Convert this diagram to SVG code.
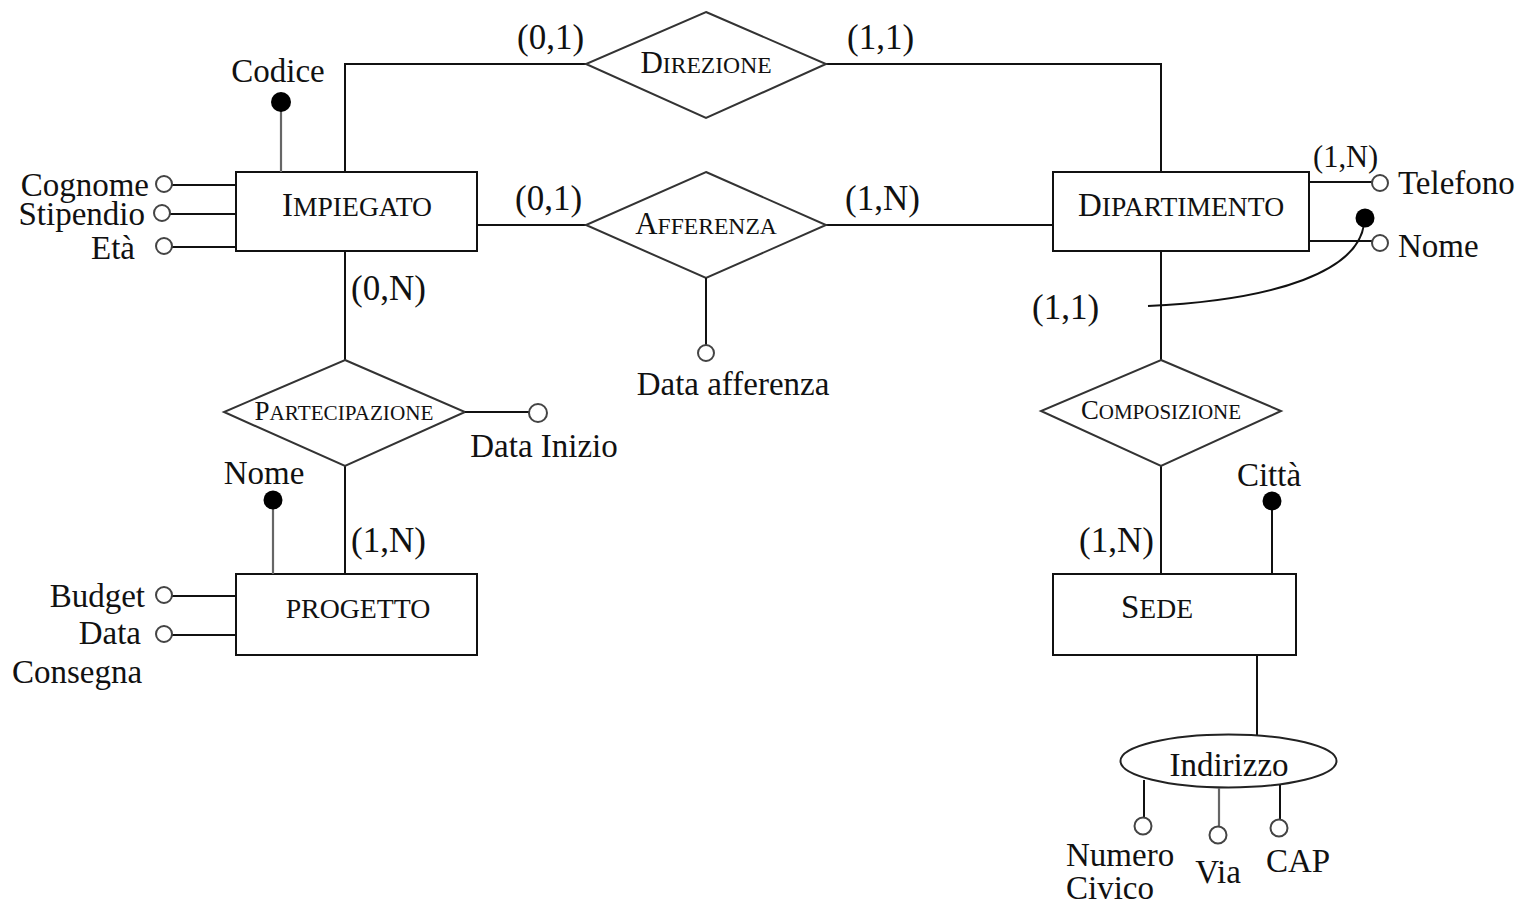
<svg xmlns="http://www.w3.org/2000/svg" width="1519" height="904" viewBox="0 0 1519 904">
<style>
text{font-family:"Liberation Serif","Times New Roman",serif;fill:#111;}
.t{font-size:33px;}
.c{font-size:35px;}
.cs{font-size:30.5px;}
.ent{fill:#fff;stroke:#111;stroke-width:2;}
.rel{fill:#fff;stroke:#333;stroke-width:2;}
.ln{fill:none;stroke:#111;stroke-width:2;}
.lg{fill:none;stroke:#666;stroke-width:2.2;}
.oc{fill:#fff;stroke:#444;stroke-width:2;}
.fc{fill:#000;stroke:none;}
.big{font-size:33px;}
.sm{font-size:27.6px;}
.rbig{font-size:31px;}
.rsm{font-size:23.6px;}
</style>
<rect width="1519" height="904" fill="#fff"/>
<g id="connectors">
<polyline class="ln" points="345,172 345,64 586,64"/>
<polyline class="ln" points="826,64 1161,64 1161,172"/>
<line class="ln" x1="477" y1="225" x2="586" y2="225"/>
<line class="ln" x1="826" y1="225" x2="1053" y2="225"/>
<line class="ln" x1="345" y1="251" x2="345" y2="360"/>
<line class="ln" x1="345" y1="466" x2="345" y2="574"/>
<line class="ln" x1="1161" y1="251" x2="1161" y2="360"/>
<line class="ln" x1="1161" y1="466" x2="1161" y2="574"/>
<line class="ln" x1="1257" y1="655" x2="1257" y2="735"/>
</g>
<g id="impiegato">
<rect class="ent" x="236" y="172" width="241" height="79"/>
<text x="357" y="216" text-anchor="middle"><tspan class="big">I</tspan><tspan class="sm">MPIEGATO</tspan></text>
</g>
<g id="attr-codice">
<line class="lg" x1="281" y1="172" x2="281" y2="102"/>
<circle class="fc" cx="281" cy="102" r="10"/>
<text class="t" x="278" y="82" text-anchor="middle">Codice</text>
</g>
<g id="attr-cognome">
<line class="ln" x1="172" y1="185" x2="236" y2="185"/>
<circle class="oc" cx="164" cy="184" r="8"/>
<text class="t" x="149" y="196" text-anchor="end">Cognome</text>
</g>
<g id="attr-stipendio">
<line class="ln" x1="170" y1="214" x2="236" y2="214"/>
<circle class="oc" cx="162" cy="213" r="8"/>
<text class="t" x="145" y="225" text-anchor="end">Stipendio</text>
</g>
<g id="attr-eta">
<line class="ln" x1="172" y1="247" x2="236" y2="247"/>
<circle class="oc" cx="164" cy="246" r="8"/>
<text class="t" x="135" y="259" text-anchor="end">Età</text>
</g>
<g id="direzione">
<polygon class="rel" points="706,12 826,64 706,118 586,64"/>
<text x="706" y="73" text-anchor="middle"><tspan class="rbig">D</tspan><tspan class="rsm">IREZIONE</tspan></text>
<text class="c" x="517" y="49">(0,1)</text>
<text class="c" x="847" y="49">(1,1)</text>
</g>
<g id="afferenza">
<polygon class="rel" points="706,172 826,225 706,278 586,225"/>
<text x="706" y="234" text-anchor="middle"><tspan class="rbig">A</tspan><tspan class="rsm">FFERENZA</tspan></text>
<text class="c" x="515" y="210">(0,1)</text>
<text class="c" x="845" y="210">(1,N)</text>
<line class="ln" x1="706" y1="278" x2="706" y2="345"/>
<circle class="oc" cx="706" cy="353" r="8"/>
<text class="t" x="733" y="395" text-anchor="middle">Data afferenza</text>
</g>
<g id="dipartimento">
<rect class="ent" x="1053" y="172" width="256" height="79"/>
<text x="1181" y="216" text-anchor="middle"><tspan class="big">D</tspan><tspan class="sm">IPARTIMENTO</tspan></text>
</g>
<g id="attr-telefono">
<line class="ln" x1="1309" y1="182" x2="1372" y2="182"/>
<circle class="oc" cx="1380" cy="183" r="8"/>
<text class="cs" x="1313" y="167">(1,N)</text>
<text class="t" x="1398" y="194">Telefono</text>
</g>
<g id="attr-nome-dip">
<line class="ln" x1="1309" y1="241" x2="1372" y2="241"/>
<circle class="oc" cx="1380" cy="243" r="8"/>
<text class="t" x="1398" y="257">Nome</text>
</g>
<g id="identifier-dip">
<path class="ln" d="M1364,224 C1358,270 1280,300 1148,306"/>
<circle class="fc" cx="1365" cy="218" r="9.5"/>
</g>
<g id="partecipazione">
<polygon class="rel" points="345,360 465,412 345,466 224,412"/>
<text x="344" y="420" text-anchor="middle"><tspan style="font-size:27px">P</tspan><tspan style="font-size:21.2px">ARTECIPAZIONE</tspan></text>
<text class="c" x="351" y="300">(0,N)</text>
<text class="c" x="351" y="552">(1,N)</text>
<line class="ln" x1="465" y1="412" x2="529" y2="412"/>
<circle class="oc" cx="538" cy="413" r="9"/>
<text class="t" x="544" y="457" text-anchor="middle">Data Inizio</text>
</g>
<g id="progetto">
<rect class="ent" x="236" y="574" width="241" height="81"/>
<text x="358" y="618" text-anchor="middle" style="font-size:27.8px">PROGETTO</text>
</g>
<g id="attr-nome-prog">
<line class="lg" x1="273" y1="574" x2="273" y2="500"/>
<circle class="fc" cx="273" cy="500" r="9.5"/>
<text class="t" x="264" y="484" text-anchor="middle">Nome</text>
</g>
<g id="attr-budget">
<line class="ln" x1="172" y1="596" x2="236" y2="596"/>
<circle class="oc" cx="164" cy="595" r="8"/>
<text class="t" x="145" y="607" text-anchor="end">Budget</text>
</g>
<g id="attr-data-consegna">
<line class="ln" x1="172" y1="635" x2="236" y2="635"/>
<circle class="oc" cx="164" cy="634" r="8"/>
<text class="t" x="141" y="644" text-anchor="end">Data</text>
<text class="t" x="12" y="683">Consegna</text>
</g>
<g id="composizione">
<polygon class="rel" points="1161,360 1281,411 1161,466 1041,411"/>
<text x="1161" y="419" text-anchor="middle"><tspan style="font-size:26.7px">C</tspan><tspan style="font-size:21px">OMPOSIZIONE</tspan></text>
<text class="c" x="1032" y="319">(1,1)</text>
<text class="c" x="1079" y="552">(1,N)</text>
</g>
<g id="sede">
<rect class="ent" x="1053" y="574" width="243" height="81"/>
<text x="1157" y="618" text-anchor="middle"><tspan class="big">S</tspan><tspan class="sm">EDE</tspan></text>
</g>
<g id="attr-citta">
<line class="ln" x1="1272" y1="574" x2="1272" y2="501"/>
<circle class="fc" cx="1272" cy="501" r="9.5"/>
<text class="t" x="1269" y="486" text-anchor="middle">Città</text>
</g>
<g id="indirizzo">
<ellipse class="ent" cx="1228.5" cy="761" rx="108" ry="26.5" style="stroke:#222"/>
<text class="t" x="1229" y="776" text-anchor="middle">Indirizzo</text>
</g>
<g id="attr-numero-civico">
<line class="ln" x1="1144" y1="780" x2="1144" y2="818"/>
<circle class="oc" cx="1143" cy="826" r="8.5"/>
<text class="t" x="1066" y="866">Numero</text>
<text class="t" x="1066" y="899">Civico</text>
</g>
<g id="attr-via">
<line class="lg" x1="1219" y1="788" x2="1219" y2="826"/>
<circle class="oc" cx="1218" cy="835" r="8.5"/>
<text class="t" x="1218" y="883" text-anchor="middle">Via</text>
</g>
<g id="attr-cap">
<line class="ln" x1="1280" y1="785" x2="1280" y2="820"/>
<circle class="oc" cx="1279" cy="828" r="8.5"/>
<text class="t" x="1298" y="872" text-anchor="middle">CAP</text>
</g>
</svg>
